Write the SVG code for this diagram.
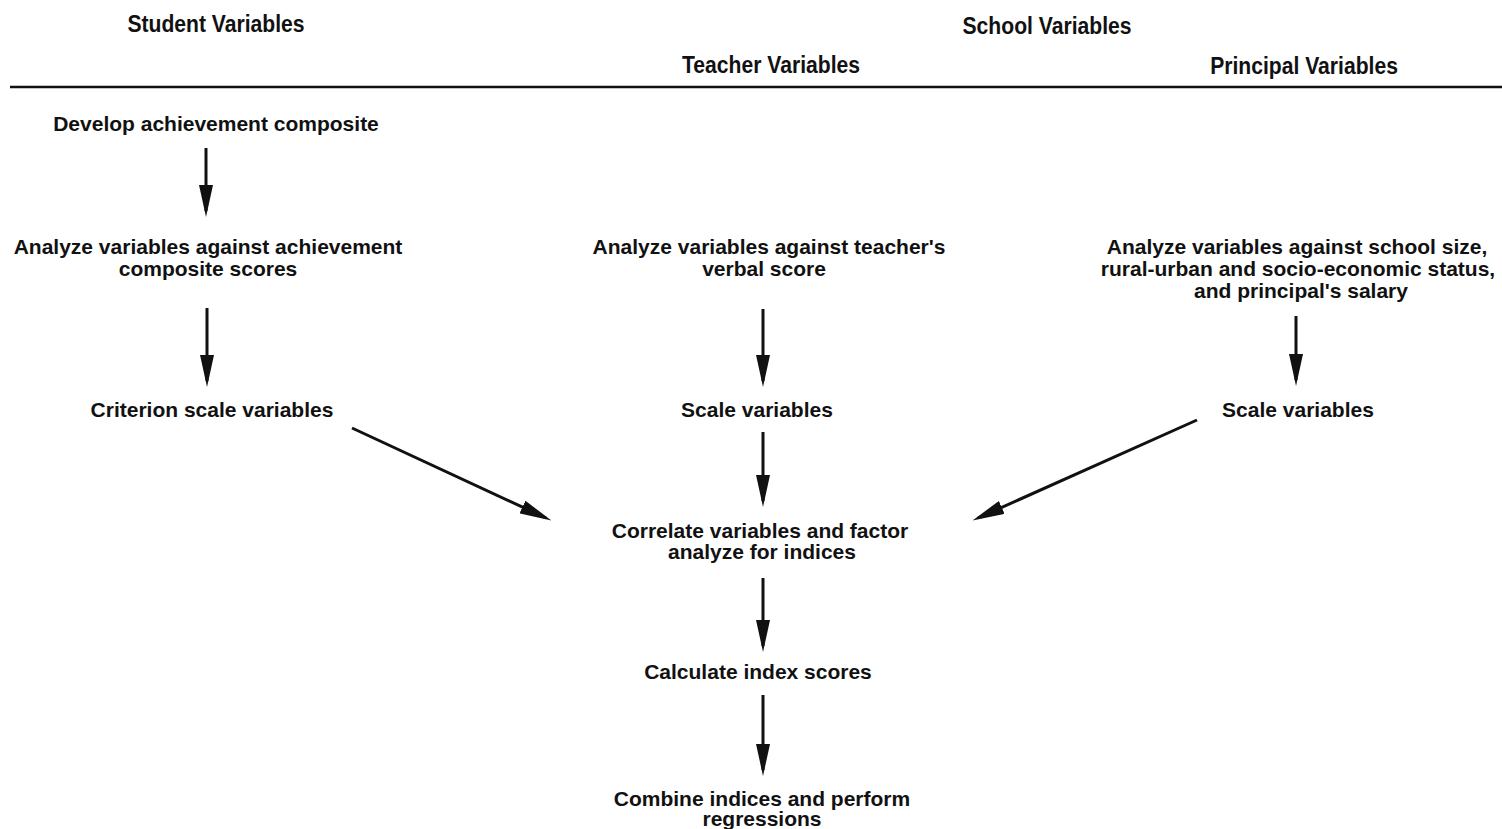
<svg xmlns="http://www.w3.org/2000/svg" width="1502" height="829" viewBox="0 0 1502 829">
<style>
text{font-family:"Liberation Sans",Arial,sans-serif;font-weight:bold;font-size:21px;fill:#111;text-anchor:middle}
.hd{font-size:24px}
.c{stroke:#111;stroke-width:3;fill:none}
</style>
<defs>
<marker id="ah" viewBox="0 0 32 14" refX="26" refY="7" markerWidth="32" markerHeight="14" markerUnits="userSpaceOnUse" orient="auto">
<path d="M0,0 L32,7 L0,14 Z" fill="#111"/>
</marker>
</defs>
<rect width="1502" height="829" fill="#fff"/>
<g id="headers">
<text class="hd" transform="translate(216,32) scale(0.88,1)">Student Variables</text>
<text class="hd" transform="translate(1047,34) scale(0.88,1)">School Variables</text>
<text class="hd" transform="translate(771,73) scale(0.88,1)">Teacher Variables</text>
<text class="hd" transform="translate(1304,74) scale(0.88,1)">Principal Variables</text>
<line x1="10" y1="87" x2="1502" y2="87" stroke="#111" stroke-width="2.5"/>
</g>
<g id="n1"><text x="216" y="131">Develop achievement composite</text></g>
<g id="n2"><text x="208" y="254">Analyze variables against achievement</text><text x="208" y="276">composite scores</text></g>
<g id="n3"><text x="212" y="417">Criterion scale variables</text></g>
<g id="n4"><text x="769" y="254">Analyze variables against teacher's</text><text x="764" y="276">verbal score</text></g>
<g id="n5"><text x="757" y="417">Scale variables</text></g>
<g id="n6"><text x="1297" y="254">Analyze variables against school size,</text><text x="1298" y="276">rural-urban and socio-economic status,</text><text x="1301" y="298">and principal's salary</text></g>
<g id="n7"><text x="1298" y="417">Scale variables</text></g>
<g id="n8"><text x="760" y="538">Correlate variables and factor</text><text x="762" y="559">analyze for indices</text></g>
<g id="n9"><text x="758" y="679">Calculate index scores</text></g>
<g id="n10"><text x="762" y="806">Combine indices and perform</text><text x="762" y="826">regressions</text></g>
<g id="connectors">
<path class="c" d="M206,148 V211" marker-end="url(#ah)"/>
<path class="c" d="M207,308 V381" marker-end="url(#ah)"/>
<path class="c" d="M763,309 V381" marker-end="url(#ah)"/>
<path class="c" d="M1296,316 V380" marker-end="url(#ah)"/>
<path class="c" d="M763,432 V501" marker-end="url(#ah)"/>
<path class="c" d="M763,578 V646" marker-end="url(#ah)"/>
<path class="c" d="M763,695 V770" marker-end="url(#ah)"/>
<path class="c" d="M352,428 L546,518" marker-end="url(#ah)"/>
<path class="c" d="M1197,420 L978,518" marker-end="url(#ah)"/>
</g>
</svg>
